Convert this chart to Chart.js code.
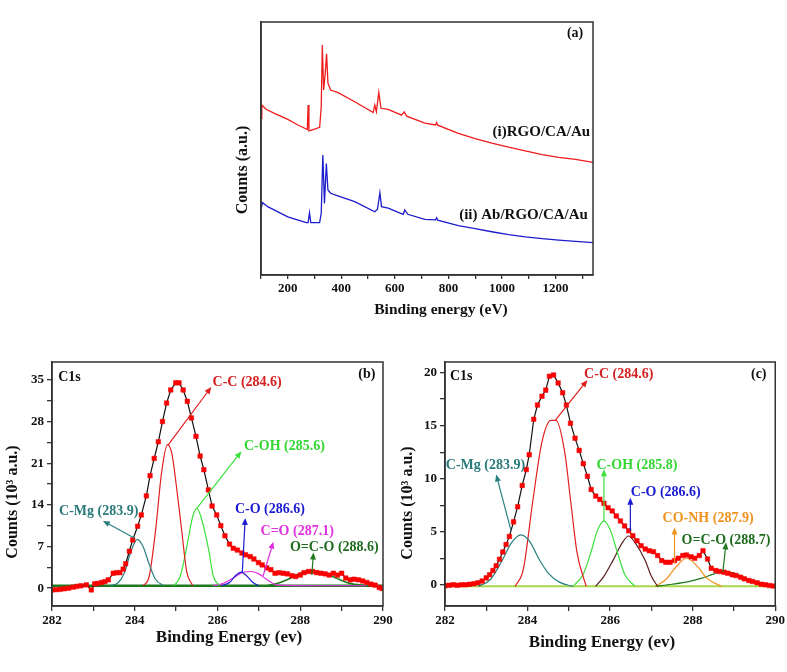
<!DOCTYPE html>
<html>
<head>
<meta charset="utf-8">
<script src="https://cdn.jsdelivr.net/npm/chart.js@4.4.1/dist/chart.umd.min.js"></script>
<style>
  body { margin: 0; background: #fff; }
  #wrap { position: relative; width: 787px; height: 672px; overflow: hidden; }
  canvas { position: absolute; }
</style>
</head>
<body>
<div id="wrap">
  <canvas id="chartA" style="left:200px;top:0px"></canvas>
  <canvas id="chartB" style="left:0px;top:340px"></canvas>
  <canvas id="chartC" style="left:390px;top:340px"></canvas>
</div>
<script>
// (a) survey spectra, counts in arbitrary units
const surveyRedX = [100, 103, 119, 150, 200, 238, 269, 273, 276, 279, 300, 319, 325, 329, 334, 340, 345, 350, 360, 388, 450, 519, 525, 531, 540, 548, 575, 625, 635, 644, 712, 752, 756, 760, 837, 900, 962, 1025, 1087, 1150, 1212, 1275, 1340];
const surveyRedY = [61.9, 67.2, 65.5, 63.9, 61.5, 59.3, 57.7, 57.5, 67.2, 57.0, 57.7, 58.4, 66.5, 90.9, 73.1, 79.7, 87.4, 75.8, 73.1, 72.1, 68.5, 64.2, 67.2, 64.6, 72.1, 65.9, 65.5, 63.2, 64.5, 62.8, 60.0, 59.3, 60.2, 59.2, 56.0, 53.9, 52.1, 50.5, 49.1, 47.6, 46.5, 45.7, 44.5];
const surveyBlueX = [100, 106, 125, 200, 269, 276, 281, 286, 319, 325, 331, 337, 344, 350, 360, 387, 450, 525, 535, 544, 550, 575, 631, 637, 648, 712, 752, 756, 760, 837, 900, 962, 1025, 1087, 1150, 1212, 1275, 1340];
const surveyBlueY = [26.4, 28.6, 27.0, 23.0, 20.7, 20.7, 24.6, 20.7, 20.7, 24.4, 47.4, 28.3, 44.1, 33.6, 32.3, 31.3, 29.0, 25.0, 26.0, 32.5, 27.0, 26.4, 24.0, 25.7, 24.0, 22.0, 21.8, 22.6, 21.7, 19.5, 18.3, 17.1, 16.0, 15.1, 14.4, 13.8, 13.3, 12.8];

// (b) C1s, measured counts (10^3 a.u.)
const bEnergy = [282.0, 282.1, 282.2, 282.3, 282.4, 282.51, 282.6, 282.7, 282.83, 282.95, 283.03, 283.1, 283.2, 283.28, 283.36, 283.48, 283.56, 283.64, 283.72, 283.78, 283.87, 283.95, 284.07, 284.16, 284.28, 284.37, 284.47, 284.57, 284.67, 284.77, 284.87, 284.99, 285.07, 285.17, 285.27, 285.37, 285.48, 285.58, 285.67, 285.78, 285.87, 285.98, 286.08, 286.18, 286.29, 286.38, 286.48, 286.59, 286.68, 286.79, 286.88, 286.99, 287.08, 287.19, 287.29, 287.39, 287.49, 287.59, 287.69, 287.8, 287.89, 288.0, 288.09, 288.2, 288.3, 288.4, 288.5, 288.6, 288.7, 288.8, 288.9, 289.0, 289.1, 289.21, 289.3, 289.41, 289.51, 289.61, 289.71, 289.81, 289.91, 289.98];
const bCounts = [-0.3, -0.25, -0.2, -0.1, 0.0, 0.17, 0.3, 0.4, 0.55, -0.3, 0.72, 0.8, 0.95, 1.1, 1.4, 2.5, 2.6, 2.6, 3.2, 4.1, 6.2, 8.1, 10.4, 12.3, 15.5, 18.9, 21.8, 24.6, 28.0, 31.1, 33.3, 34.5, 34.5, 33.3, 31.4, 28.6, 25.5, 22.2, 19.9, 16.5, 13.8, 12.3, 10.5, 8.8, 7.4, 6.7, 6.4, 5.9, 5.6, 5.3, 4.9, 4.3, 3.9, 3.4, 3.1, 2.5, 2.6, 2.5, 2.4, 2.1, 1.95, 2.2, 2.6, 2.8, 2.8, 2.6, 2.5, 2.4, 2.2, 2.5, 2.2, 2.5, 1.7, 1.4, 1.5, 1.4, 1.2, 0.95, 0.67, 0.5, 0.11, -0.06];
// (b) fitted components
const bMgX = [283.4, 283.6, 283.75, 283.9, 284.06, 284.2, 284.35, 284.5, 284.7];
const bMgY = [0.4, 0.9, 2.6, 6.0, 8.2, 7.0, 4.0, 1.5, 0.4];
const bCCX = [284.2, 284.35, 284.5, 284.65, 284.79, 284.9, 285.0, 285.13, 285.25, 285.4];
const bCCY = [0.4, 2.0, 9.5, 19.5, 24.1, 22.5, 17.5, 10.0, 3.0, 0.4];
const bOHX = [284.95, 285.1, 285.25, 285.4, 285.5, 285.6, 285.78, 285.9, 286.05];
const bOHY = [0.4, 2.0, 6.7, 12.0, 13.4, 12.0, 6.7, 2.0, 0.4];
const bCOX = [286.1, 286.3, 286.45, 286.57, 286.7, 286.85, 287.0];
const bCOY = [0.4, 1.0, 2.2, 2.7, 2.1, 1.0, 0.4];
const bCdOX = [285.9, 286.15, 286.4, 286.6, 286.8, 287.0, 287.2, 287.45, 288.5, 289.6];
const bCdOY = [0.4, 0.8, 1.8, 2.6, 2.8, 2.4, 1.4, 0.5, 0.4, 0.4];
const bOCOX = [287.2, 287.5, 287.8, 288.0, 288.28, 288.6, 288.9, 289.2, 289.6];
const bOCOY = [0.4, 0.9, 1.8, 2.5, 2.9, 2.5, 1.6, 0.8, 0.4];
const bBaseX = [282, 290];
const bBaseY = [0.4, 0.4];

// (c) C1s, measured counts (10^3 a.u.)
const cEnergy = [282.0, 282.1, 282.2, 282.3, 282.4, 282.5, 282.6, 282.7, 282.8, 282.9, 283.0, 283.08, 283.16, 283.24, 283.32, 283.4, 283.48, 283.56, 283.66, 283.76, 283.87, 283.97, 284.04, 284.15, 284.24, 284.35, 284.44, 284.53, 284.63, 284.74, 284.85, 284.94, 285.04, 285.15, 285.25, 285.35, 285.45, 285.54, 285.65, 285.75, 285.85, 285.95, 286.05, 286.15, 286.25, 286.35, 286.45, 286.55, 286.65, 286.75, 286.85, 286.95, 287.05, 287.15, 287.25, 287.35, 287.45, 287.56, 287.65, 287.76, 287.85, 287.96, 288.05, 288.16, 288.25, 288.36, 288.45, 288.56, 288.65, 288.76, 288.85, 288.96, 289.05, 289.16, 289.25, 289.36, 289.45, 289.56, 289.66, 289.76, 289.86, 289.96];
const cCounts = [-0.1, -0.05, 0.0, -0.05, 0.0, 0.0, 0.05, 0.1, 0.2, 0.35, 0.65, 0.95, 1.35, 1.8, 2.4, 3.1, 3.8, 4.56, 5.93, 7.36, 9.36, 10.86, 12.26, 15.6, 16.94, 17.78, 18.35, 19.66, 19.78, 19.03, 18.1, 16.94, 15.23, 13.82, 12.67, 11.42, 10.23, 8.99, 8.36, 8.05, 7.68, 7.27, 6.96, 6.49, 6.02, 5.55, 5.09, 4.62, 4.15, 3.68, 3.37, 3.21, 3.12, 2.75, 2.28, 2.12, 2.12, 2.28, 2.5, 2.75, 2.81, 2.65, 2.5, 2.75, 3.21, 2.43, 1.56, 1.34, 1.25, 1.19, 1.09, 0.94, 0.87, 0.72, 0.56, 0.41, 0.31, 0.19, 0.06, 0.0, -0.06, -0.12];
// (c) fitted components
const cMgX = [282.8, 283.1, 283.4, 283.6, 283.84, 284.05, 284.28, 284.5, 284.77, 285.1];
const cMgY = [-0.15, 0.5, 2.4, 3.9, 4.7, 4.1, 2.4, 1.1, 0.25, -0.15];
const cCCX = [283.7, 283.9, 284.12, 284.35, 284.57, 284.69, 284.9, 285.05, 285.2, 285.42];
const cCCY = [-0.15, 1.5, 7.7, 13.5, 15.5, 15.5, 12.5, 7.7, 3.0, -0.15];
const cOHX = [285.1, 285.35, 285.53, 285.7, 285.85, 286.0, 286.18, 286.35, 286.6];
const cOHY = [-0.15, 1.0, 3.0, 5.2, 6.0, 5.2, 3.0, 1.0, -0.15];
const cCOX = [285.65, 285.85, 286.07, 286.3, 286.45, 286.6, 286.85, 287.0, 287.15];
const cCOY = [-0.15, 0.8, 2.3, 4.0, 4.6, 4.0, 2.3, 0.8, -0.15];
const cNHX = [287.1, 287.35, 287.6, 287.85, 288.1, 288.35, 288.7];
const cNHY = [-0.15, 0.5, 1.7, 2.5, 1.8, 0.6, -0.15];
const cOCOX = [287.1, 287.5, 287.9, 288.2, 288.5, 288.75, 289.0, 289.3, 289.6, 289.95];
const cOCOY = [-0.15, 0.05, 0.3, 0.6, 1.0, 1.3, 1.1, 0.6, 0.2, -0.15];
const cBaseX = [282, 290];
const cBaseY = [-0.15, -0.15];

const FRAME = '#333';
const FONT = '"Liberation Serif", "Times New Roman", serif';
Chart.defaults.font.family = FONT;
Chart.defaults.font.weight = 'bold';
Chart.defaults.font.size = 13;
Chart.defaults.color = '#111';

function pts(xs, ys) {
  return xs.map((x, i) => ({ x: x, y: ys[i] }));
}

function isMultiple(v, step) {
  return Math.abs(v / step - Math.round(v / step)) < 1e-6;
}

function curve(xs, ys, color, width) {
  return {
    data: pts(xs, ys), borderColor: color, borderWidth: width || 1.2,
    pointRadius: 0, fill: false, cubicInterpolationMode: 'monotone'
  };
}

function measured(xs, ys) {
  return {
    data: pts(xs, ys), borderColor: '#111', borderWidth: 1.2, tension: 0,
    pointStyle: 'rect', pointRadius: 3.2, pointBackgroundColor: '#ff0000',
    pointBorderColor: '#e80000', pointBorderWidth: 0.5
  };
}

// frame, arrows, peak labels and axis titles
const decorPlugin = {
  id: 'decor',
  afterDraw(chart, args, opts) {
    const ctx = chart.ctx, area = chart.chartArea;
    const sx = chart.scales.x, sy = chart.scales.y;
    ctx.save();
    ctx.strokeStyle = FRAME;
    ctx.lineWidth = 1.5;
    ctx.strokeRect(area.left, area.top, area.right - area.left, area.bottom - area.top);

    (opts.arrows || []).forEach(a => {
      const x0 = sx.getPixelForValue(a.from[0]), y0 = sy.getPixelForValue(a.from[1]);
      const x1 = sx.getPixelForValue(a.to[0]), y1 = sy.getPixelForValue(a.to[1]);
      const ang = Math.atan2(y1 - y0, x1 - x0);
      const c = Math.cos(ang), s = Math.sin(ang);
      ctx.strokeStyle = a.color;
      ctx.fillStyle = a.color;
      ctx.lineWidth = 1.2;
      ctx.beginPath();
      ctx.moveTo(x0, y0);
      ctx.lineTo(x1 - 5 * c, y1 - 5 * s);
      ctx.stroke();
      ctx.beginPath();
      ctx.moveTo(x1, y1);
      ctx.lineTo(x1 - 7 * c + 3 * s, y1 - 7 * s - 3 * c);
      ctx.lineTo(x1 - 7 * c - 3 * s, y1 - 7 * s + 3 * c);
      ctx.closePath();
      ctx.fill();
    });

    ctx.textBaseline = 'middle';
    (opts.labels || []).forEach(l => {
      ctx.font = 'bold ' + (l.size || 14) + 'px ' + FONT;
      ctx.fillStyle = l.color || '#111';
      ctx.textAlign = l.align || 'left';
      ctx.fillText(l.text, sx.getPixelForValue(l.at[0]), sy.getPixelForValue(l.at[1]));
    });

    const t = opts.titles;
    ctx.fillStyle = '#111';
    ctx.textAlign = 'center';
    ctx.font = 'bold ' + t.xSize + 'px ' + FONT;
    ctx.fillText(t.x, t.xPos[0], t.xPos[1]);
    ctx.translate(t.yPos[0], t.yPos[1]);
    ctx.rotate(-Math.PI / 2);
    ctx.font = 'bold ' + t.ySize + 'px ' + FONT;
    ctx.fillText(t.y, 0, 0);
    ctx.restore();
  }
};

const tickGrid = { drawOnChartArea: false, tickLength: 5, color: FRAME, lineWidth: 1.3 };
const axisBorder = { color: FRAME, width: 1.5 };

// evenly stepped ticks between the axis limits
function stepTicks(step) {
  return s => {
    const out = [];
    for (let v = Math.ceil(s.min / step - 1e-9) * step; v <= s.max + 1e-9; v += step) {
      out.push({ value: Math.round(v * 1000) / 1000 });
    }
    s.ticks = out;
  };
}

function makeChart(id, w, h, box, datasets, xOpts, yOpts, decor) {
  const canvas = document.getElementById(id);
  canvas.width = w;
  canvas.height = h;
  return new Chart(canvas.getContext('2d'), {
    type: 'line',
    data: { datasets: datasets },
    options: {
      responsive: false,
      animation: false,
      devicePixelRatio: 1,
      layout: { padding: { left: 0, top: box.top, right: w - box.right, bottom: 0 } },
      plugins: { legend: { display: false }, tooltip: { enabled: false }, decor: decor },
      scales: {
        x: Object.assign({ type: 'linear', afterFit: s => { s.height = h - box.bottom; } }, xOpts),
        y: Object.assign({ type: 'linear', afterFit: s => { s.width = box.left; } }, yOpts)
      }
    },
    plugins: [decorPlugin]
  });
}

function energyAxis() {
  return {
    min: 282, max: 290, border: axisBorder, grid: tickGrid,
    afterBuildTicks: stepTicks(1),
    ticks: { autoSkip: false, maxRotation: 0, padding: 2,
             callback: v => isMultiple(v, 2) ? Math.round(v) : '' }
  };
}

function countsAxis(min, max, minor, major) {
  return {
    min: min, max: max, border: axisBorder, grid: tickGrid,
    afterBuildTicks: stepTicks(minor),
    ticks: { autoSkip: false, padding: 3, callback: v => isMultiple(v, major) ? Math.round(v) : '' }
  };
}

// (a)
makeChart('chartA', 410, 330, { left: 61, right: 393, top: 22, bottom: 275 },
  [
    { data: pts(surveyRedX, surveyRedY), borderColor: '#ee1c1c', borderWidth: 1.3, pointRadius: 0, tension: 0 },
    { data: pts(surveyBlueX, surveyBlueY), borderColor: '#1c1ccc', borderWidth: 1.3, pointRadius: 0, tension: 0 }
  ],
  {
    min: 100, max: 1340, border: axisBorder,
    grid: { drawOnChartArea: false, tickLength: 4, color: FRAME, lineWidth: 1.3 },
    afterBuildTicks: stepTicks(100),
    ticks: { autoSkip: false, maxRotation: 0, padding: 2,
             callback: v => isMultiple(v, 200) ? Math.round(v) : '' }
  },
  { min: 0, max: 100, border: axisBorder, grid: { display: false }, ticks: { display: false } },
  {
    labels: [
      { text: '(a)', at: [1273, 95.6], align: 'center', size: 14 },
      { text: '(i)RGO/CA/Au', at: [1329, 56.6], align: 'right', size: 15 },
      { text: '(ii) Ab/RGO/CA/Au', at: [1321, 23.7], align: 'right', size: 15 }
    ],
    titles: { x: 'Binding energy (eV)', xPos: [241, 310], xSize: 15.5,
              y: 'Counts (a.u.)', yPos: [43, 170], ySize: 16 }
  });

// (b)
makeChart('chartB', 395, 332, { left: 52, right: 383, top: 22, bottom: 266 },
  [
    measured(bEnergy, bCounts),
    curve(bMgX, bMgY, '#2a8080'),
    curve(bCCX, bCCY, '#e02020'),
    curve(bOHX, bOHY, '#3ee03e'),
    curve(bCOX, bCOY, '#1a1ad0'),
    curve(bCdOX, bCdOY, '#e030e0'),
    curve(bOCOX, bOCOY, '#1e7a1e', 1.6),
    curve(bBaseX, bBaseY, '#1e7a1e', 2.6)
  ],
  energyAxis(),
  countsAxis(-3, 38, 3.5, 7),
  {
    arrows: [
      { from: [284.8, 24.0], to: [285.85, 33.8], color: '#e02020' },
      { from: [285.5, 13.4], to: [286.58, 23.0], color: '#3ee03e' },
      { from: [284.0, 8.4], to: [283.23, 11.3], color: '#2a8080' },
      { from: [286.6, 2.7], to: [286.67, 11.8], color: '#1a1ad0' },
      { from: [287.1, 2.0], to: [287.35, 7.8], color: '#e030e0' },
      { from: [288.28, 2.2], to: [288.32, 6.0], color: '#1e7a1e' }
    ],
    labels: [
      { text: 'C1s', at: [282.15, 35.4] },
      { text: '(b)', at: [289.61, 36.0], align: 'center' },
      { text: 'C-C (284.6)', at: [285.88, 34.5], color: '#d42020' },
      { text: 'C-OH (285.6)', at: [286.64, 23.8], color: '#33d633' },
      { text: 'C-Mg (283.9)', at: [282.17, 12.9], color: '#2a7a7a' },
      { text: 'C-O (286.6)', at: [286.42, 13.2], color: '#1a1ad0' },
      { text: 'C=O (287.1)', at: [287.04, 9.5], color: '#e030e0' },
      { text: 'O=C-O (288.6)', at: [287.75, 6.9], color: '#1e6b1e' }
    ],
    titles: { x: 'Binding Energy (ev)', xPos: [229, 298], xSize: 17,
              y: 'Counts (10\u00b3 a.u.)', yPos: [13, 162], ySize: 16 }
  });

// (c)
makeChart('chartC', 397, 332, { left: 55, right: 388, top: 22, bottom: 266 },
  [
    measured(cEnergy, cCounts),
    curve(cMgX, cMgY, '#2a8080'),
    curve(cCCX, cCCY, '#e02020'),
    curve(cOHX, cOHY, '#3ee03e'),
    curve(cCOX, cCOY, '#5a1e1e'),
    curve(cNHX, cNHY, '#f0921e'),
    curve(cOCOX, cOCOY, '#1e7a1e'),
    curve(cBaseX, cBaseY, '#a8d84a', 2)
  ],
  energyAxis(),
  countsAxis(-2, 21, 2.5, 5),
  {
    arrows: [
      { from: [284.67, 15.5], to: [285.45, 19.3], color: '#e02020' },
      { from: [283.6, 5.1], to: [283.24, 10.4], color: '#2a8080' },
      { from: [285.85, 6.0], to: [285.85, 10.9], color: '#3ee03e' },
      { from: [286.49, 5.1], to: [286.49, 8.2], color: '#1a1ad0' },
      { from: [287.56, 2.0], to: [287.56, 5.4], color: '#f0921e' },
      { from: [288.73, 1.2], to: [288.81, 4.0], color: '#1e7a1e' }
    ],
    labels: [
      { text: 'C1s', at: [282.12, 19.6] },
      { text: '(c)', at: [289.6, 19.8], align: 'center' },
      { text: 'C-C (284.6)', at: [285.37, 19.8], color: '#d42020' },
      { text: 'C-Mg (283.9)', at: [282.02, 11.3], color: '#2a7a7a' },
      { text: 'C-OH (285.8)', at: [285.67, 11.3], color: '#33d633' },
      { text: 'C-O (286.6)', at: [286.5, 8.7], color: '#1a1ad0' },
      { text: 'CO-NH (287.9)', at: [287.27, 6.3], color: '#f0921e' },
      { text: 'O=C-O (288.7)', at: [287.73, 4.15], color: '#1e6b1e' }
    ],
    titles: { x: 'Binding Energy (ev)', xPos: [212, 303], xSize: 17,
              y: 'Counts (10\u00b3 a.u.)', yPos: [18, 163], ySize: 16 }
  });
</script>
</body>
</html>
